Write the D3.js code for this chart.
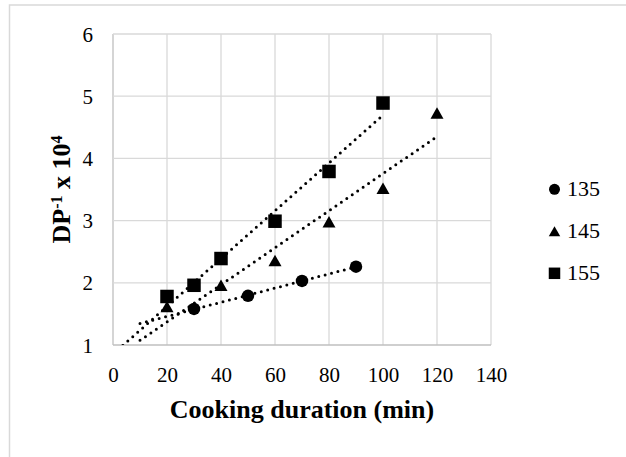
<!DOCTYPE html>
<html>
<head>
<meta charset="utf-8">
<script src="https://cdn.jsdelivr.net/npm/d3@7"></script>
</head>
<body style="margin:0; background:#fff;">
<div id="chart-area"></div>
<script>
/*
*    cooking duration chart
*/

var xTicks = [0, 20, 40, 60, 80, 100, 120, 140];
var yTicks = [1, 2, 3, 4, 5, 6];

var t135x = [30, 50, 70, 90];
var t135y = [1.58, 1.79, 2.03, 2.26];
var t145x = [20, 40, 60, 80, 100, 120];
var t145y = [1.62, 1.96, 2.36, 2.98, 3.52, 4.73];
var t155x = [20, 30, 40, 60, 80, 100];
var t155y = [1.78, 1.96, 2.39, 2.99, 3.79, 4.89];

// trendline start (backward forecast), clipped at the axis
var trendStart = [10, 10, 0];

var seriesNames = ["135", "145", "155"];
var seriesX = [t135x, t145x, t155x];
var seriesY = [t135y, t145y, t155y];
var shapes = ["circle", "triangle", "square"];

var FONT = "'Liberation Serif'";

var svg = d3.select("#chart-area").append("svg")
    .attr("width", 626)
    .attr("height", 457)
    .attr("font-family", "Liberation Serif");

// outer frame
svg.append("rect")
    .attr("x", 9.5)
    .attr("y", 5)
    .attr("width", 700)
    .attr("height", 500)
    .attr("fill", "none")
    .attr("stroke", "#d9d9d9")
    .attr("stroke-width", 1.5);

var x = d3.scaleLinear().domain([0, 140]).range([113, 491]);
var y = d3.scaleLinear().domain([1, 6]).range([345, 34]);

// gridlines
svg.append("g")
    .selectAll("line")
    .data(xTicks)
    .enter().append("line")
    .attr("x1", function(d) { return x(d); })
    .attr("x2", function(d) { return x(d); })
    .attr("y1", y(1))
    .attr("y2", y(6))
    .attr("stroke", function(d) { return d === 0 ? "#bfbfbf" : "#d9d9d9"; })
    .attr("stroke-width", 1.3);

svg.append("g")
    .selectAll("line")
    .data(yTicks)
    .enter().append("line")
    .attr("x1", x(0))
    .attr("x2", x(140))
    .attr("y1", function(d) { return y(d); })
    .attr("y2", function(d) { return y(d); })
    .attr("stroke", function(d) { return d === 1 ? "#bfbfbf" : "#d9d9d9"; })
    .attr("stroke-width", 1.3);

// axes (labels only)
var xAxis = svg.append("g")
    .attr("transform", "translate(0," + y(1) + ")")
    .call(d3.axisBottom(x).tickValues(xTicks).tickFormat(d3.format("d")).tickSize(0).tickPadding(0))
    .attr("font-family", "Liberation Serif");
xAxis.select(".domain").remove();
xAxis.selectAll("text")
    .attr("y", 37)
    .attr("dy", 0)
    .attr("fill", "#000")
    .style("font-family", FONT)
    .style("font-size", "21px");

var yAxis = svg.append("g")
    .attr("transform", "translate(" + x(0) + ",0)")
    .call(d3.axisLeft(y).tickValues(yTicks).tickFormat(d3.format("d")).tickSize(0).tickPadding(0))
    .attr("font-family", "Liberation Serif");
yAxis.select(".domain").remove();
yAxis.selectAll("text")
    .attr("x", -20)
    .attr("dy", "0.34em")
    .attr("fill", "#000")
    .style("font-family", FONT)
    .style("font-size", "21px");

// axis titles
svg.append("text")
    .attr("x", (x(0) + x(140)) / 2)
    .attr("y", 418)
    .attr("text-anchor", "middle")
    .style("font-family", FONT)
    .style("font-size", "26px")
    .style("font-weight", "bold")
    .text("Cooking duration (min)");

var yTitle = svg.append("text")
    .attr("transform", "translate(70," + ((y(1) + y(6)) / 2) + ") rotate(-90)")
    .attr("text-anchor", "middle")
    .style("font-family", FONT)
    .style("font-size", "26px")
    .style("font-weight", "bold");
yTitle.append("tspan").text("DP");
yTitle.append("tspan").attr("baseline-shift", "super").style("font-size", "16px").text("-1");
yTitle.append("tspan").text(" x 10");
yTitle.append("tspan").attr("baseline-shift", "super").style("font-size", "16px").text("4");

// clip for trendlines
svg.append("clipPath").attr("id", "plot-clip")
    .append("rect")
    .attr("x", x(0))
    .attr("y", y(6))
    .attr("width", x(140) - x(0))
    .attr("height", y(1) - y(6));

function markerPath(shape, s) {
    var h = s / 2;
    if (shape === "circle") {
        return "M" + (-h) + ",0A" + h + "," + h + " 0 1,0 " + h + ",0A" + h + "," + h + " 0 1,0 " + (-h) + ",0Z";
    }
    if (shape === "square") {
        return "M" + (-h) + "," + (-h) + "H" + h + "V" + h + "H" + (-h) + "Z";
    }
    var th = s * 0.88 / 2;
    return "M0," + (-th) + "L" + h + "," + th + "L" + (-h) + "," + th + "Z";
}

var markerSize = [12.5, 13, 13.5];
var legendSize = [11, 11.5, 11.5];

seriesNames.forEach(function(name, i) {
    var xs = seriesX[i], ys = seriesY[i];
    var mx = d3.mean(xs), my = d3.mean(ys);
    var sxy = d3.sum(xs, function(v, k) { return (v - mx) * (ys[k] - my); });
    var sxx = d3.sum(xs, function(v) { return (v - mx) * (v - mx); });
    var slope = sxy / sxx;
    var icpt = my - slope * mx;
    var ends = [trendStart[i], d3.max(xs)];

    svg.append("line")
        .attr("clip-path", "url(#plot-clip)")
        .attr("x1", x(ends[0]))
        .attr("y1", y(icpt + slope * ends[0]))
        .attr("x2", x(ends[1]))
        .attr("y2", y(icpt + slope * ends[1]))
        .attr("stroke", "#000")
        .attr("stroke-width", 3)
        .attr("stroke-linecap", "round")
        .attr("stroke-dasharray", "0 6.6");
});

seriesNames.forEach(function(name, i) {
    var pts = seriesX[i].map(function(v, k) { return [v, seriesY[i][k]]; });
    svg.append("g")
        .selectAll("path")
        .data(pts)
        .enter().append("path")
        .attr("transform", function(d) { return "translate(" + x(d[0]) + "," + y(d[1]) + ")"; })
        .attr("d", markerPath(shapes[i], markerSize[i]))
        .attr("fill", "#000");

    // legend
    var ly = 189.3 + i * 42;
    svg.append("path")
        .attr("transform", "translate(554.5," + ly + ")")
        .attr("d", markerPath(shapes[i], legendSize[i]))
        .attr("fill", "#000");
    svg.append("text")
        .attr("x", 567)
        .attr("y", ly + 7)
        .style("font-family", FONT)
        .style("font-size", "22px")
        .text(name);
});
</script>
</body>
</html>
